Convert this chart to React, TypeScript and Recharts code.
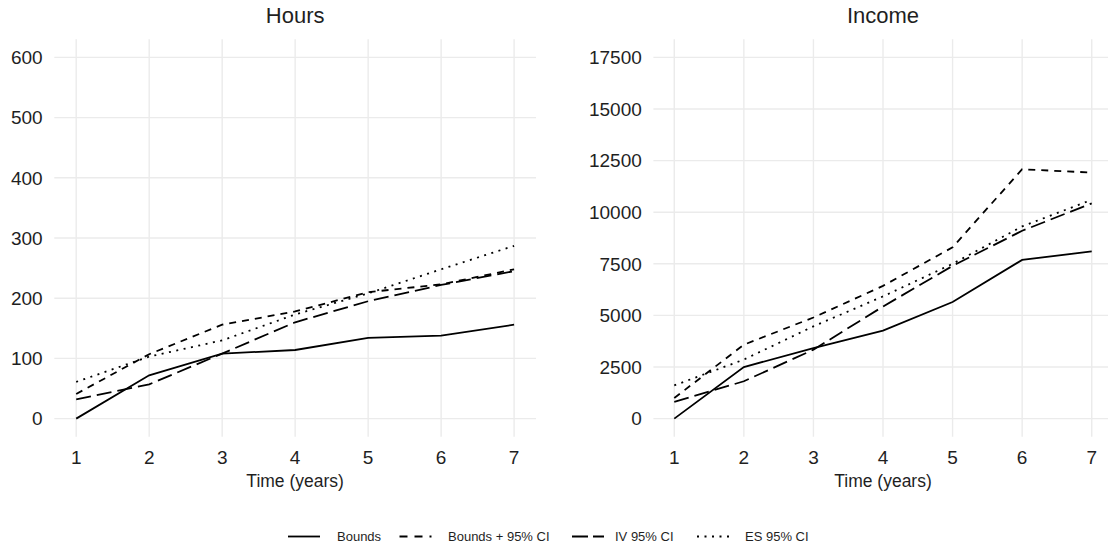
import { LineChart, Line, XAxis, YAxis, ReferenceLine } from "recharts";

const years = [1, 2, 3, 4, 5, 6, 7];

const hoursBounds = [0, 72, 108, 114, 134, 138, 156];
const hoursBoundsCI = [41, 107, 156, 178, 210, 223, 248];
const hoursIV = [32, 57, 108, 160, 195, 222, 245];
const hoursES = [61, 103, 130, 173, 208, 248, 287];

const incomeBounds = [0, 2500, 3420, 4260, 5650, 7690, 8100];
const incomeBoundsCI = [1000, 3580, 4900, 6430, 8300, 12080, 11920];
const incomeIV = [810, 1810, 3340, 5430, 7400, 9100, 10430];
const incomeES = [1610, 2860, 4470, 5920, 7500, 9310, 10600];

const hoursTicks = [0, 100, 200, 300, 400, 500, 600];
const incomeTicks = [0, 2500, 5000, 7500, 10000, 12500, 15000, 17500];

const FONT = "'Liberation Sans', Arial, Helvetica, sans-serif";
const INK = "#1f1f1f";
const GRID = "#EBEBEB";

// line styles shared by the panels and the legend
const series = [
  { key: "bounds", name: "Bounds", dash: undefined },
  { key: "boundsCI", name: "Bounds + 95% CI", dash: "7 6" },
  { key: "iv", name: "IV 95% CI", dash: "15 6" },
  { key: "es", name: "ES 95% CI", dash: "2 5.5" },
];

const buildRows = (
  bounds: number[],
  boundsCI: number[],
  iv: number[],
  es: number[]
) =>
  years.map((year, i) => ({
    year,
    bounds: bounds[i],
    boundsCI: boundsCI[i],
    iv: iv[i],
    es: es[i],
  }));

const hoursData = buildRows(hoursBounds, hoursBoundsCI, hoursIV, hoursES);
const incomeData = buildRows(incomeBounds, incomeBoundsCI, incomeIV, incomeES);

interface PanelProps {
  data: ReturnType<typeof buildRows>;
  left: number;
  width: number;
  rightMargin: number;
  yWidth: number;
  yDomain: [number, number];
  yTicks: number[];
}

const Panel = ({
  data,
  left,
  width,
  rightMargin,
  yWidth,
  yDomain,
  yTicks,
}: PanelProps) => (
  <div style={{ position: "absolute", left, top: 0 }}>
    <LineChart
      width={width}
      height={548}
      data={data}
      margin={{ top: 39.3, right: rightMargin, bottom: 71.3, left: 0 }}
    >
      <XAxis
        dataKey="year"
        type="number"
        domain={[0.7, 7.3]}
        ticks={years}
        interval={0}
        allowDataOverflow
        height={40}
        tickLine={false}
        axisLine={false}
        tickSize={6}
        tickMargin={8}
        tick={{ fontSize: 19, fill: INK, fontFamily: FONT }}
        label={{
          value: "Time (years)",
          position: "bottom",
          offset: -1.8,
          style: { fontSize: 17.5, fill: INK, fontFamily: FONT },
        }}
      />
      <YAxis
        type="number"
        domain={yDomain}
        ticks={yTicks}
        interval={0}
        allowDataOverflow
        width={yWidth}
        tickLine={false}
        axisLine={false}
        tickSize={6}
        tickMargin={5.6}
        tick={{ fontSize: 19, fill: INK, fontFamily: FONT }}
      />
      {/* major grid only, like theme_minimal without minor lines */}
      {yTicks.map((t) => (
        <ReferenceLine key={`h${t}`} y={t} stroke={GRID} strokeWidth={1.4} />
      ))}
      {years.map((t) => (
        <ReferenceLine key={`v${t}`} x={t} stroke={GRID} strokeWidth={1.4} />
      ))}
      {series.map((s) => (
        <Line
          key={s.key}
          type="linear"
          dataKey={s.key}
          name={s.name}
          stroke="#000"
          strokeWidth={1.8}
          strokeDasharray={s.dash}
          dot={false}
          activeDot={false}
          isAnimationActive={false}
        />
      ))}
    </LineChart>
  </div>
);

// legend key positions (x of key start, x of text start)
const legendKeys = [288, 399.5, 572, 697];
const legendTexts = [337, 448, 615, 745];

export default function App() {
  return (
    <div
      style={{
        position: "fixed",
        left: 0,
        top: 0,
        width: 1108,
        height: 548,
        overflow: "hidden",
        background: "#fff",
        fontFamily: FONT,
      }}
    >
      <Panel
        data={hoursData}
        left={0}
        width={554}
        rightMargin={18}
        yWidth={54.3}
        yDomain={[-30, 630]}
        yTicks={hoursTicks}
      />
      <Panel
        data={incomeData}
        left={554}
        width={560}
        rightMargin={1.4}
        yWidth={99.4}
        yDomain={[-875, 18375]}
        yTicks={incomeTicks}
      />
      <svg
        width={1108}
        height={548}
        style={{ position: "absolute", left: 0, top: 0, pointerEvents: "none" }}
      >
        <text
          x={295.2}
          y={22.7}
          textAnchor="middle"
          fontSize={22}
          fill={INK}
          fontFamily={FONT}
        >
          Hours
        </text>
        <text
          x={883}
          y={22.7}
          textAnchor="middle"
          fontSize={22}
          fill={INK}
          fontFamily={FONT}
        >
          Income
        </text>
        {series.map((s, i) => (
          <g key={s.key}>
            <line
              x1={legendKeys[i]}
              x2={legendKeys[i] + 32}
              y1={536.5}
              y2={536.5}
              stroke="#000"
              strokeWidth={1.8}
              strokeDasharray={
                s.key === "boundsCI" ? "8 7" : s.key === "iv" ? "16 5" : s.dash
              }
            />
            <text
              x={legendTexts[i]}
              y={540.7}
              fontSize={13}
              fill={INK}
              fontFamily={FONT}
            >
              {s.name}
            </text>
          </g>
        ))}
      </svg>
    </div>
  );
}
